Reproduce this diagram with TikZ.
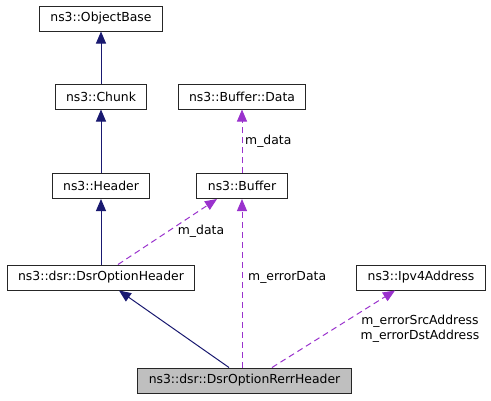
\documentclass[tikz,border=0pt]{standalone}
\usepackage{fontspec}
\setmainfont{DejaVu Sans}
\usetikzlibrary{arrows.meta}
\definecolor{inhcol}{RGB}{25,25,112}
\definecolor{usecol}{RGB}{154,50,205}
\definecolor{boxgray}{RGB}{191,191,191}
\begin{document}
\begin{tikzpicture}[x=1pt, y=-1pt,
    cls/.style={draw=black!85, line width=1pt, fill=white, minimum height=25pt,
      inner xsep=11pt, inner ysep=0pt, font=\fontsize{12.4}{14}\selectfont},
    inherit/.style={draw=inhcol, line width=1pt, -{Triangle[length=12pt,width=10pt]}},
    uses/.style={draw=usecol, line width=1pt, dash pattern=on 6pt off 4pt,
      -{Triangle[length=12pt,width=10pt]}},
    lbl/.style={font=\fontsize{12.4}{14.5}\selectfont, inner sep=0pt}]
        \useasboundingbox (0,0) rectangle (491,400);

        \node [ cls ] (objbase) at (101, 18.5) {ns3::ObjectBase};
        \node [ cls ] (chunk) at (101, 96.5) {ns3::Chunk};
        \node [ cls ] (bufdata) at (242, 96.5) {ns3::Buffer::Data};
        \node [ cls ] (header) at (101, 186) {ns3::Header};
        \node [ cls ] (buffer) at (242, 186) {ns3::Buffer};
        \node [ cls ] (dsroh) at (101, 277.5) {ns3::dsr::DsrOptionHeader};
        \node [ cls ] (ipv4) at (421, 277.5) {ns3::Ipv4Address};
        \node [ cls, fill=boxgray ] (rerr) at (244.5, 380.5) {ns3::dsr::DsrOptionRerrHeader};

        \draw [ inherit ] (chunk) -- (objbase);
        \draw [ inherit ] (header) -- (chunk);
        \draw [ inherit ] (dsroh) -- (header);
        \draw [ inherit ] ([xshift=-15.5pt]rerr.north) -- ([xshift=18pt]dsroh.south);

        \draw [ uses ] (buffer) -- (bufdata);
        \draw [ uses ] ([xshift=17pt]dsroh.north) -- ([xshift=-25pt]buffer.south);
        \draw [ uses ] (rerr.north -| buffer.south) -- (buffer.south);
        \draw [ uses ] ([xshift=27.5pt]rerr.north) -- ([xshift=-26pt]ipv4.south);

        \node [ lbl, anchor=west ] (lbdata) at (245, 141) {m\_data};
        \node [ lbl ] (lbdata2) at (201, 231) {m\_data};
        \node [ lbl, anchor=west ] (lberr) at (248, 277) {m\_errorData};
        \node [ lbl, align=center ] (lbaddr) at (420, 328.5) {m\_errorSrcAddress\\m\_errorDstAddress};
\end{tikzpicture}
\end{document}
